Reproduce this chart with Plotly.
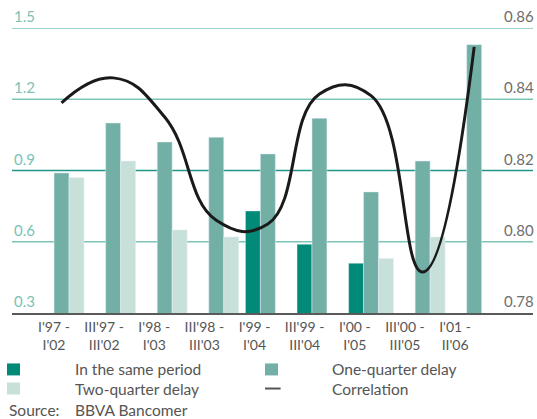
import plotly.graph_objects as go

categories = ["I'97 -<br>I'02", "III'97 -<br>III'02", "I'98 -<br>I'03", "III'98 -<br>III'03",
              "I'99 -<br>I'04", "III'99 -<br>III'04", "I'00 -<br>I'05", "III'00 -<br>III'05",
              "I'01 -<br>II'06"]
same_period = [None, None, None, None, 0.73, 0.59, 0.51, None, None]
one_quarter = [0.89, 1.10, 1.02, 1.04, 0.97, 1.12, 0.81, 0.94, 1.43]
two_quarter = [0.87, 0.94, 0.65, 0.62, None, None, 0.53, 0.62, None]
correlation = [0.839, 0.846, 0.835, 0.806, 0.805, 0.8415, 0.841, 0.7915, 0.8547]

left_ticks = [0.3, 0.6, 0.9, 1.2, 1.5]
left_labels = ["0.3", "0.6", "0.9", "1.2", "1.5"]
right_ticks = [0.78, 0.80, 0.82, 0.84, 0.86]
right_labels = ["0.78", "0.80", "0.82", "0.84", "0.86"]

DARK = "#008a77"
MID = "#72b0a6"
LIGHT = "#c8e0da"
GRID = "#7cc4b8"
GRID_DARK = "#1f9686"
FONT = "Lato"
TXT = "#555555"

x = list(range(len(categories)))
# label positions drift slightly relative to bar groups, as in the source
label_pos = [-0.146 + 0.972 * i for i in x]

fig = go.Figure()
fig.add_trace(go.Bar(x=x, y=same_period, name="In the same period", marker_color=DARK))
fig.add_trace(go.Bar(x=x, y=one_quarter, name="One-quarter delay", marker_color=MID))
fig.add_trace(go.Bar(x=x, y=two_quarter, name="Two-quarter delay", marker_color=LIGHT))
fig.add_trace(go.Scatter(x=x, y=correlation, name="Correlation", yaxis="y2", mode="lines",
                         line=dict(color="#1a1a1a", width=3, shape="spline", smoothing=1.3)))

fig.update_layout(
    width=537, height=419,
    margin=dict(l=12, r=4, t=28, b=106, autoexpand=False),
    paper_bgcolor="white", plot_bgcolor="white",
    barmode="group", bargap=0.13, bargroupgap=0,
    showlegend=False,
    font=dict(family=FONT, size=14, color=TXT),
    xaxis=dict(range=[-0.96, 9.14], tickvals=label_pos, ticktext=categories,
               showgrid=False, zeroline=False, showline=True, linecolor="#5a5a5a",
               linewidth=2, ticks="", automargin=False,
               tickfont=dict(size=14, color=TXT)),
    yaxis=dict(range=[0.3, 1.5], tickvals=left_ticks, showticklabels=False,
               showgrid=False, zeroline=False,
               showline=False, ticks="", automargin=False),
    yaxis2=dict(range=[0.78, 0.86], tickvals=right_ticks, showticklabels=False,
                overlaying="y", side="right", showgrid=False, zeroline=False,
                showline=False, ticks="", automargin=False),
)

# gridlines (the middle one is drawn darker in the source)
for v in left_ticks[1:]:
    fig.add_shape(type="line", xref="paper", yref="y", x0=0, x1=1, y0=v, y1=v,
                  layer="below", line=dict(color=GRID_DARK if v == 0.9 else GRID, width=1.5))

# y tick labels sit above the gridlines, inside the plot span
for v, t in zip(left_ticks, left_labels):
    fig.add_annotation(text=t, xref="paper", yref="y", x=0.0, y=v, xanchor="left",
                       yanchor="bottom", showarrow=False, yshift=1,
                       font=dict(size=15, color="#7cc2b6"))
for v, t in zip(right_ticks, right_labels):
    fig.add_annotation(text=t, xref="paper", yref="y2", x=1.005, y=v, xanchor="right",
                       yanchor="bottom", showarrow=False, yshift=1,
                       font=dict(size=15, color="#6e6e6e"))

# manual legend
legend_items = [
    ("In the same period", DARK, "box", -0.0096, 0.117, -0.198),
    ("One-quarter delay", MID, "box", 0.4856, 0.610, -0.198),
    ("Two-quarter delay", LIGHT, "box", -0.0096, 0.117, -0.265),
    ("Correlation", "#555555", "line", 0.4856, 0.610, -0.265),
]
for text, color, kind, sx, tx, yy in legend_items:
    if kind == "box":
        fig.add_shape(type="rect", xref="paper", yref="paper", x0=sx, x1=sx + 0.025,
                      y0=yy - 0.021, y1=yy + 0.021, fillcolor=color, line_width=0)
    else:
        fig.add_shape(type="line", xref="paper", yref="paper", x0=sx, x1=sx + 0.03,
                      y0=yy, y1=yy, line=dict(color=color, width=2))
    fig.add_annotation(text=text, xref="paper", yref="paper", x=tx, y=yy, xanchor="left",
                       yanchor="middle", showarrow=False, font=dict(size=15.5, color=TXT))

fig.add_annotation(text="Source:", xref="paper", yref="paper", x=-0.0096, y=-0.339,
                   xanchor="left", yanchor="middle", showarrow=False,
                   font=dict(size=15.5, color=TXT))
fig.add_annotation(text="BBVA Bancomer", xref="paper", yref="paper", x=0.117, y=-0.339,
                   xanchor="left", yanchor="middle", showarrow=False,
                   font=dict(size=15.5, color=TXT))

fig.write_html("out.html", config={"displayModeBar": False},
               post_script="document.body.style.margin='0';document.body.style.overflow='hidden';")
